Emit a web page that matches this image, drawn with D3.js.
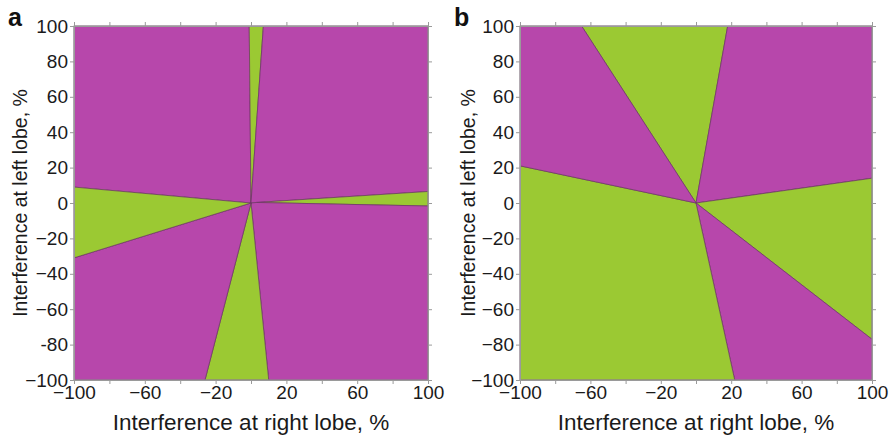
<!DOCTYPE html>
<html><head><meta charset="utf-8">
<script src="https://cdn.jsdelivr.net/npm/d3@7"></script>
<style>
html,body{margin:0;padding:0;background:#fff;}
svg{display:block;font-family:"Liberation Sans",Arial,sans-serif;}
</style></head><body>
<svg id="chart" width="894" height="437"></svg>
<script>
// ---- data ----
const domainX = [-100, 100];
const domainY = [-100, 100];
const xTicks = [-100,-80,-60,-40,-20,0,20,40,60,80,100];
const xTickLabels = ["\u2212100","","\u221260","","\u221220","","20","","60","","100"];
const yTicks = [-100,-80,-60,-40,-20,0,20,40,60,80,100];
const yTickLabelsA = ["\u2212100","-80","\u221260","\u221240","\u221220","0","20","40","60","80","100"];
const yTickLabelsB = ["\u2212100","\u221280","\u221260","\u221240","\u221220","0","20","40","60","80","100"];
const xTitle = "Interference at right lobe, %";
const yTitle = "Interference at left lobe, %";
const panelNames = ["a", "b"];

// regions of panel a (polygon vertices in data units) and their class
const regionsA = [
  {cls: "P", pts: [[0,0],[-100,9],[-100,100],[-1,100]]},
  {cls: "G", pts: [[0,0],[-1,100],[7,100]]},
  {cls: "P", pts: [[0,0],[7,100],[100,100],[100,6.5],[3,0.3]]},
  {cls: "G", pts: [[3,0.3],[100,6.5],[100,-1.7]]},
  {cls: "P", pts: [[0,0],[3,0.3],[100,-1.7],[100,-100],[10,-100]]},
  {cls: "G", pts: [[0,0],[10,-100],[-26,-100]]},
  {cls: "P", pts: [[0,0],[-26,-100],[-100,-100],[-100,-31]]},
  {cls: "G", pts: [[0,0],[-100,-31],[-100,9]]}
];
// regions of panel b
const regionsB = [
  {cls: "G", pts: [[0,0],[-65,100],[18,100]]},
  {cls: "P", pts: [[0,0],[18,100],[100,100],[100,14]]},
  {cls: "G", pts: [[0,0],[100,14],[100,-77]]},
  {cls: "P", pts: [[0,0],[100,-77],[100,-100],[22,-100]]},
  {cls: "G", pts: [[0,0],[22,-100],[-100,-100],[-100,21]]},
  {cls: "P", pts: [[0,0],[-100,21],[-100,100],[-65,100]]}
];

// ---- styles / layout ----
const colors = {P: "#b747ab", G: "#9bc933"};
const edgeColor = "#6a3562";
const axisColor = "#9a9a9a";
const panels = [
  {left: 74, top: 26, w: 354, h: 354, regions: regionsA, yLabels: yTickLabelsA, name: panelNames[0], nameX: 8, yTitleX: 27},
  {left: 520, top: 26, w: 352, h: 354, regions: regionsB, yLabels: yTickLabelsB, name: panelNames[1], nameX: 454, yTitleX: 475}
];

const svg = d3.select("#chart");

panels.forEach(p => {
  const x = d3.scaleLinear().domain(domainX).range([0, p.w]);
  const y = d3.scaleLinear().domain(domainY).range([p.h, 0]);
  const g = svg.append("g").attr("transform", `translate(${p.left},${p.top})`);

  const line = d3.line().x(d => x(d[0])).y(d => y(d[1]));
  g.selectAll("path.region").data(p.regions).join("path")
    .attr("class", "region")
    .attr("d", d => line(d.pts) + "Z")
    .attr("fill", d => colors[d.cls])
    .attr("stroke", edgeColor)
    .attr("stroke-width", 0.7)
    .attr("stroke-linejoin", "round");

  // frame
  g.append("rect").attr("x", 0).attr("y", 0).attr("width", p.w).attr("height", p.h)
    .attr("fill", "none").attr("stroke", axisColor).attr("stroke-width", 1);

  const fmtX = d => xTickLabels[xTicks.indexOf(d)];
  const fmtY = d => p.yLabels[yTicks.indexOf(d)];

  const axB = g.append("g").attr("transform", `translate(0,${p.h})`)
    .call(d3.axisBottom(x).tickValues(xTicks).tickSize(4).tickPadding(2).tickFormat(fmtX));
  const axL = g.append("g")
    .call(d3.axisLeft(y).tickValues(yTicks).tickSize(4).tickPadding(2).tickFormat(fmtY));
  const axT = g.append("g")
    .call(d3.axisTop(x).tickValues(xTicks).tickSize(4).tickFormat(""));
  const axR = g.append("g").attr("transform", `translate(${p.w},0)`)
    .call(d3.axisRight(y).tickValues(yTicks).tickSize(4).tickFormat(""));
  [axB, axL, axT, axR].forEach(a => {
    a.select(".domain").attr("stroke", axisColor);
    a.selectAll(".tick line").attr("stroke", axisColor);
    a.selectAll(".tick text").attr("fill", "#1a1a1a")
      .style("font-size", "19px").style("font-family", "'Liberation Sans', Arial, sans-serif");
  });
  axB.selectAll(".tick text").attr("dy", "0.68em");

  // axis titles
  g.append("text").attr("x", p.w / 2).attr("y", p.h + 50)
    .attr("text-anchor", "middle").attr("fill", "#1a1a1a")
    .style("font-size", "22.5px").text(xTitle);
  svg.append("text").attr("transform", `translate(${p.yTitleX},${p.top + p.h/2}) rotate(-90)`)
    .attr("text-anchor", "middle").attr("fill", "#1a1a1a")
    .style("font-size", "19.5px").text(yTitle);

  svg.append("text").attr("x", p.nameX).attr("y", 26)
    .attr("fill", "#111").style("font-size", "25px").style("font-weight", "bold")
    .text(p.name);
});
</script>
</body></html>
